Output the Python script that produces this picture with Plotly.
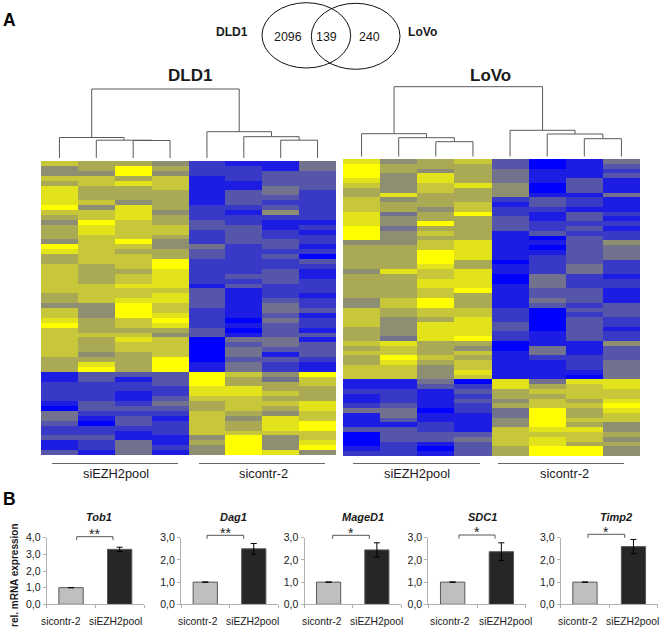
import plotly.graph_objects as go

W, H = 661, 630

# Heatmap data: expression level per row (0 = lowest/blue, 9 = highest/yellow), one list per sample
dld1_s1 = [7,5,5,7,6,8,8,8,8,9,7,6,5,6,6,6,5,9,8,6,6,7,7,7,7,7,7,6,6,5,7,7,8,9,7,7,7,7,7,7,6,6,6, 1,1,2,2,2,2,1,0,4,4,3,2,2,3,1,1,3]
dld1_s2 = [6,6,5,7,7,6,6,6,7,5,7,7,9,8,8,7,7,7,7,7,7,6,6,6,6,7,7,7,7,5,5,5,6,6,6,7,6,6,6,5,6,8,9, 3,3,2,2,2,2,3,3,2,1,0,2,2,3,2,2,1]
dld1_s3 = [6,9,9,6,8,6,6,6,5,8,8,8,7,7,7,7,9,7,6,7,7,7,6,7,7,8,7,7,8,9,9,9,7,7,6,7,8,7,7,6,6,6,6, 3,1,2,2,1,1,2,3,2,3,3,2,1,1,4,4,4]
dld1_s4 = [5,6,5,7,7,7,6,6,6,6,5,6,6,7,7,6,5,5,6,6,9,9,8,8,8,8,7,8,8,7,7,8,9,8,6,5,7,7,7,7,9,9,9, 3,3,3,2,2,3,4,3,2,1,2,2,2,1,1,2,1]
dld1_s5 = [2,2,2,1,1,1,1,1,1,2,2,2,3,3,2,2,2,4,3,3,2,2,2,2,2,1,3,3,3,3,2,2,2,2,3,3,0,0,0,0,0,1,1, 9,9,9,8,8,7,6,6,7,7,7,7,7,5,6,5,5]
dld1_s6 = [1,2,2,2,1,1,3,3,3,2,1,2,2,3,3,3,3,2,2,2,2,2,2,3,2,3,1,1,1,1,1,1,0,1,0,1,4,3,4,4,3,4,4, 7,6,6,8,8,7,7,7,6,5,6,6,7,9,9,9,9]
dld1_s7 = [1,1,3,3,3,4,4,3,2,3,5,2,1,1,2,2,3,3,2,3,2,2,3,3,3,2,2,2,3,4,4,3,4,3,3,3,4,4,3,1,3,2,2, 5,4,6,6,7,6,7,6,5,8,8,8,7,5,5,5,8]
dld1_s8 = [4,4,3,3,3,3,2,2,2,2,2,2,1,2,1,2,2,1,2,0,3,2,1,1,2,2,2,1,2,2,3,1,2,2,1,3,1,3,3,3,2,1,1, 9,7,7,6,6,6,8,8,7,7,9,9,7,7,8,9,5]

lovo_s1 = [8,9,9,9,8,7,6,6,7,7,7,8,8,8,9,9,9,5,6,6,6,6,6,5,6,6,6,6,6,5,5,7,7,7,7,6,6,6,7,6,7,6,6,7,7,7, 1,1,2,1,1,2,4,1,1,1,3,0,0,0,1,2]
lovo_s2 = [5,6,6,5,5,5,5,8,5,6,6,4,5,5,4,5,5,5,6,6,6,6,6,8,6,6,6,6,6,7,7,6,6,5,5,5,5,4,8,7,7,9,8,7,7,7, 1,1,2,2,2,3,4,4,3,1,3,3,3,2,2,2]
lovo_s3 = [6,6,5,8,8,7,7,6,6,6,5,6,6,9,6,7,6,7,7,9,9,9,8,7,7,8,8,7,7,9,9,7,7,6,8,8,8,8,6,6,6,7,6,5,5,5, 4,3,1,1,1,1,0,1,1,2,2,3,3,1,0,1]
lovo_s4 = [7,6,6,6,6,8,6,6,6,7,7,9,6,6,6,6,6,8,8,8,8,6,6,8,8,8,8,9,6,6,6,7,7,8,8,8,8,9,6,5,7,6,7,7,8,7, 0,2,3,2,3,2,2,1,1,1,1,3,4,3,3,3]
lovo_s5 = [3,3,4,4,4,5,5,5,2,1,2,2,3,3,3,1,1,1,1,1,1,0,1,1,0,0,1,1,1,1,1,2,2,2,3,3,2,2,0,0,1,1,1,1,1,1, 8,8,6,6,5,6,4,4,5,5,7,7,7,7,6,6]
lovo_s6 = [0,0,1,1,1,0,0,1,3,3,2,1,1,2,2,3,0,1,0,1,2,2,2,2,4,4,4,3,3,4,3,0,0,0,0,0,1,1,1,4,4,2,1,1,1,1, 4,6,7,6,7,7,9,9,9,9,8,7,8,8,9,9]
lovo_s7 = [1,1,1,1,3,3,3,1,2,2,1,3,3,2,3,2,3,3,3,3,3,3,4,4,2,2,2,3,3,3,2,3,2,3,3,3,3,3,1,1,1,2,2,2,1,0, 8,7,7,7,6,7,6,6,7,6,8,7,7,6,9,9]
lovo_s8 = [4,3,2,3,1,1,1,4,1,1,1,2,1,2,1,2,2,5,4,4,4,2,2,2,1,2,2,1,1,1,3,3,3,2,2,1,2,2,5,3,3,3,4,4,4,4, 8,8,7,7,8,9,8,7,7,5,5,6,5,6,5,5]

# Dendrogram merges: (left node, right node, height). Nodes 0-7 are leaves; 8+ are earlier merges.
dld1_merges = [(2,3,17.5),(1,8,17.8),(0,9,20.5),(6,7,17.8),(5,11,21.3),(4,12,26.3),(10,13,69)]
lovo_merges = [(2,3,15),(1,8,19),(0,9,23),(6,7,18),(5,11,22.7),(4,12,26.4),(10,13,70)]

# Bar charts
genes = ["Tob1","Dag1","MageD1","SDC1","Timp2"]
categories = ["sicontr-2","siEZH2pool"]
control_values = [1.0,1.0,1.0,1.0,1.0]
knockdown_values = [3.3,2.5,2.45,2.37,2.6]
knockdown_errors = [0.13,0.24,0.32,0.40,0.32]
y_max = [4,3,3,3,3]
stars = ["**","**","*","*","*"]

# Venn counts
venn_counts = ["2096","139","240"]

# ---- layout in pixels ----
def px(x): return x/W
def py(y): return 1-y/H

FONT = "Liberation Sans, Arial, sans-serif"
TXT = "#1a1a1a"
fig = go.Figure()
axes = {}
ann = []
shapes = []
n_ax = [0]

def new_axes(x0,x1,y0,y1,xopts,yopts):
    n_ax[0]+=1
    i=n_ax[0]
    sx = "" if i==1 else str(i)
    axes["xaxis"+sx]=dict(domain=[px(x0),px(x1)],anchor="y"+sx,**xopts)
    axes["yaxis"+sx]=dict(domain=[py(y1),py(y0)],anchor="x"+sx,**yopts)
    return "x"+sx,"y"+sx

def text(x,y,s,size,color=TXT,angle=0):
    ann.append(dict(x=px(x),y=py(y),xref="paper",yref="paper",text=s,showarrow=False,
                    xanchor="center",yanchor="middle",textangle=angle,
                    font=dict(family=FONT,size=size,color=color)))

def line(x0,y0,x1,y1,color="#555555",width=1):
    shapes.append(dict(type="line",xref="paper",yref="paper",x0=px(x0),x1=px(x1),y0=py(y0),y1=py(y1),
                       line=dict(color=color,width=width)))

hidden = dict(visible=False,fixedrange=True)
scale = [[0,"#0000ff"],[0.5,"#808080"],[1,"#ffff00"]]

def heatmap(cols,x0,x1,y0,y1):
    z=[list(r) for r in zip(*cols)]
    xa,ya=new_axes(x0,x1,y0,y1,dict(range=[-0.5,7.5],**hidden),dict(range=[len(z)-0.5,-0.5],**hidden))
    fig.add_trace(go.Heatmap(z=z,zmin=0,zmax=9,colorscale=scale,showscale=False,xaxis=xa,yaxis=ya,hoverinfo="skip"))

def dendro(merges,x0,x1,ybase,ytop):
    xa,ya=new_axes(x0,x1,ytop,ybase,dict(range=[-0.5,7.5],**hidden),dict(range=[0,ybase-ytop],**hidden))
    pos={i:(float(i),0.0) for i in range(8)}
    xs,ys=[],[]
    nid=8
    for a,b,h in merges:
        xa0,ha=pos[a]; xb0,hb=pos[b]
        xs+=[xa0,xa0,xb0,xb0,None]; ys+=[ha,h,h,hb,None]
        pos[nid]=((xa0+xb0)/2,h); nid+=1
    fig.add_trace(go.Scatter(x=xs,y=ys,mode="lines",line=dict(color="#5a5a5a",width=1),xaxis=xa,yaxis=ya,hoverinfo="skip",showlegend=False))

heatmap([dld1_s1,dld1_s2,dld1_s3,dld1_s4,dld1_s5,dld1_s6,dld1_s7,dld1_s8],41,336,161,455)
heatmap([lovo_s1,lovo_s2,lovo_s3,lovo_s4,lovo_s5,lovo_s6,lovo_s7,lovo_s8],343,640,159,456)
dendro(dld1_merges,41,336,158,80)
dendro(lovo_merges,343,640,156.7,80)

# group lines and labels under heatmaps
for (a,b,lbl,cx) in [(52,178,"siEZH2pool",115.7),(199,325,"sicontr-2",263),(353,480,"siEZH2pool",416.7),(498,624,"sicontr-2",564)]:
    line(a,463.5,b,463.5,"#666666",1)
    text(cx,473.5,lbl,12.8)

# Venn
shapes.append(dict(type="circle",xref="paper",yref="paper",x0=px(262),x1=px(350.7),y0=py(68),y1=py(2.7),line=dict(color="#111111",width=1)))
shapes.append(dict(type="circle",xref="paper",yref="paper",x0=px(311.3),x1=px(400),y0=py(69.3),y1=py(3.3),line=dict(color="#111111",width=1)))
for cx,s in zip([288,326.7,369],venn_counts):
    text(cx,36.5,s,12.4)
text(232,32,"<b>DLD1</b>",12.1)
text(422,32,"<b>LoVo</b>",12.1)
text(190,75,"<b>DLD1</b>",17)
text(490,75,"<b>LoVo</b>",17)
text(9,20.5,"<b>A</b>",17.5,"#000000")
text(9,499,"<b>B</b>",17.5,"#000000")
text(14,575,"<b>rel. mRNA expression</b>",10,TXT,-90)

# Bars
ax_l = [46.7,181,304.5,428.3,560.7]
ax_r = [144,278,401,525.7,657.7]
title_x = [98.7,233,363,482,616]
lab1_x = [60.7,197.7,322,450,578]
lab2_x = [115,252,376.7,505,632]
br_l = [76.7,207,332.7,459,588]
br_r = [113,243.7,369.3,495,624.7]
br_y = [536.7,535.3,535.3,535,534.3]
star_y = [534,533,533,532,532]
base_y, top_y = 604.3, 537.7
for i,g in enumerate(genes):
    xa,ya=new_axes(ax_l[i],ax_r[i],top_y,base_y,
        dict(range=[-0.5,1.5],tickvals=[-0.5,0.5,1.5],ticks="outside",ticklen=3,tickcolor="#b0b0b0",showticklabels=False,
             showline=True,linecolor="#b0b0b0",linewidth=1,showgrid=False,zeroline=False,fixedrange=True),
        dict(range=[0,y_max[i]],tickvals=list(range(y_max[i]+1)),tickformat=".1f",ticks="outside",ticklen=3,tickcolor="#b0b0b0",
             showline=True,linecolor="#b0b0b0",linewidth=1,showgrid=False,zeroline=False,fixedrange=True,
             tickfont=dict(family=FONT,size=10.5,color=TXT)))
    fig.add_trace(go.Bar(x=[0,1],y=[control_values[i],knockdown_values[i]],width=0.5,
        marker=dict(color=["#bfbfbf","#262626"],line=dict(color="#595959",width=1)),
        error_y=dict(type="data",array=[0,knockdown_errors[i]],arrayminus=[0,knockdown_errors[i]],visible=True,color="#000000",thickness=1,width=3),
        xaxis=xa,yaxis=ya,hoverinfo="skip",showlegend=False))
    text(title_x[i],517,"<b><i>%s</i></b>"%g,11)
    text(lab1_x[i],621.7,categories[0],10.3)
    text(lab2_x[i],621.7,categories[1],10.3)
    line(br_l[i],br_y[i],br_r[i],br_y[i],"#555555",1)
    line(br_l[i],br_y[i],br_l[i],br_y[i]+3.5,"#555555",1)
    line(br_r[i],br_y[i],br_r[i],br_y[i]+3.5,"#555555",1)
    text((br_l[i]+br_r[i])/2,star_y[i],stars[i],14)

fig.update_layout(width=W,height=H,margin=dict(l=0,r=0,t=0,b=0,autoexpand=False),paper_bgcolor="white",plot_bgcolor="white",
    showlegend=False,separators=",.",annotations=ann,shapes=shapes,font=dict(family=FONT),**axes)
fig.write_html("out.html",config=dict(displayModeBar=False,responsive=False),
    post_script="document.body.style.margin='0';document.body.style.overflow='hidden';")
